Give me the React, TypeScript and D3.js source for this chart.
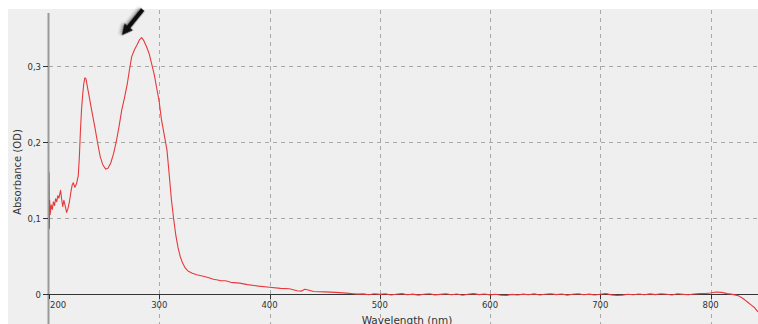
import React from "react";
import * as d3 from "d3";

// Absorption spectrum: wavelength (nm) and absorbance (OD) readings
const wavelengths: number[] = [
  200, 200.3, 200.6, 201, 202, 203, 204, 205, 206, 207, 208, 209, 210.5, 211.5, 212.5, 213.5, 214.5, 216, 217,
  218.5, 220, 221, 222, 223.5, 225, 226.5, 227.5, 228.5, 229.5, 230.5, 231.5, 232.5, 233.5, 235, 237, 239, 241.5,
  244, 246.5, 249, 251.5, 253.5, 256, 258.5, 261, 263.5, 266, 268.5, 271, 273, 275, 277.5, 280, 282, 284, 286,
  288.5, 291, 293, 295.5, 297.5, 300, 302, 304.5, 307, 309.5, 311, 313, 315, 317, 319, 321, 323.5, 326, 330, 334,
  340, 345, 349, 353, 356, 360, 365, 373, 380, 390, 400, 410, 418, 425, 429, 432, 435, 440, 450, 460, 470, 476,
  480, 485, 490, 495, 500, 505, 510, 515, 520, 525, 530, 535, 540, 545, 550, 555, 560, 565, 570, 575, 580, 585,
  590, 595, 600, 605, 610, 615, 620, 625, 630, 635, 640, 645, 650, 655, 660, 665, 670, 675, 680, 685, 690, 695,
  700, 705, 710, 715, 720, 725, 730, 735, 740, 745, 750, 755, 760, 765, 770, 775, 780, 785, 790, 795, 800, 805,
  810, 815, 820, 825, 828, 831, 834, 837, 840, 843,
];

const absorbance: number[] = [
  0.161, 0.087, 0.124, 0.105, 0.118, 0.112, 0.122, 0.117, 0.126, 0.122, 0.13, 0.127, 0.137, 0.125, 0.116, 0.124,
  0.118, 0.108, 0.112, 0.122, 0.136, 0.144, 0.147, 0.141, 0.146, 0.156, 0.18, 0.215, 0.243, 0.262, 0.277, 0.285,
  0.284, 0.272, 0.256, 0.24, 0.221, 0.2, 0.181, 0.17, 0.165, 0.166, 0.173, 0.185, 0.201, 0.221, 0.243, 0.259,
  0.277, 0.296, 0.313, 0.322, 0.329, 0.335, 0.338, 0.334, 0.326, 0.316, 0.304, 0.289, 0.273, 0.253, 0.23, 0.21,
  0.19, 0.15, 0.125, 0.1, 0.078, 0.062, 0.05, 0.042, 0.035, 0.031, 0.028, 0.026, 0.024, 0.022, 0.02, 0.019, 0.018,
  0.018, 0.016, 0.015, 0.013, 0.011, 0.0095, 0.008, 0.0075, 0.005, 0.0045, 0.0068, 0.006, 0.004, 0.0035, 0.0028,
  0.0018, 0.001, 0.0005, 0.0008, -0.0004, 0.001, 0.0002, 0.0009, -0.0006, 0.0004, 0.0012, -0.0003, 0.0005,
  -0.0008, 0.0003, 0.001, -0.0005, 0.0002, 0.0009, -0.0004, 0.0006, -0.0009, 0.0004, 0.0011, -0.0002, 0.0007,
  -0.0005, 0.0003, -0.001, -0.0012, 0.0002, -0.0006, 0.0005, -0.0003, 0.0008, -0.0007, 0.0004, 0.001, -0.0002,
  0.0006, -0.0008, 0.0003, 0.0009, -0.0004, 0.0005, -0.0006, 0.0004, 0.0012, -0.0005, -0.0012, -0.0008, 0.0003,
  -0.0004, 0.0006, -0.0003, 0.0008, -0.0002, 0.001, 0.0003, -0.0006, 0.0009, 0.0002, -0.0004, 0.0007, 0.0011,
  0.0014, 0.002, 0.0032, 0.0028, 0.0012, 0.0002, -0.0015, -0.004, -0.007, -0.0105, -0.014, -0.0175, -0.023,
];

const xTicks: number[] = [200, 300, 400, 500, 600, 700, 800];
const yTicks: number[] = [0, 0.1, 0.2, 0.3];
const yTickLabels: string[] = ["0", "0,1", "0,2", "0,3"];

// Arrow annotation pointing at the main absorption maximum (tail -> tip, in data units)
const arrowTail: [number, number] = [285, 0.375];
const arrowTip: [number, number] = [266, 0.341];

const W = 758;
const H = 324;
const FONT = "'DejaVu Sans', Verdana, sans-serif";

export default function App() {
  const x = d3.scaleLinear().domain([200, 843]).range([49, 758]);
  const y = d3.scaleLinear().domain([0, 0.3]).range([294.5, 66.5]);

  const points: [number, number][] = wavelengths.map((w, i) => [w, absorbance[i]]);
  const line = d3
    .line<[number, number]>()
    .x((d) => x(d[0]))
    .y((d) => y(d[1]));

  // Arrow geometry
  const [tx, ty] = [x(arrowTail[0]), y(arrowTail[1])];
  const [hx, hy] = [x(arrowTip[0]), y(arrowTip[1])];
  const ang = Math.atan2(hy - ty, hx - tx);
  const len = Math.hypot(hx - tx, hy - ty);
  const headLen = 11;
  const headHalf = 5.5;
  const shaftHalf = 2.2;
  const arrowPath = [
    [0, -shaftHalf],
    [len - headLen, -shaftHalf],
    [len - headLen, -headHalf],
    [len, 0],
    [len - headLen, headHalf],
    [len - headLen, shaftHalf],
    [0, shaftHalf],
  ]
    .map((p, i) => `${i === 0 ? "M" : "L"}${p[0]},${p[1]}`)
    .join("") + "Z";

  return (
    <svg
      width={W}
      height={H}
      style={{ position: "absolute", left: 0, top: 0, display: "block" }}
    >
      <defs>
        <filter id="arrowShadow" x="-50%" y="-50%" width="200%" height="200%">
          <feDropShadow dx="1" dy="2" stdDeviation="1.5" floodColor="#000" floodOpacity="0.35" />
        </filter>
        <clipPath id="plotClip">
          <rect x={49} y={9} width={W - 49} height={H - 9} />
        </clipPath>
      </defs>
      <rect x={0} y={0} width={W} height={H} fill="#ffffff" />
      <rect x={8} y={9} width={W - 8} height={H - 9} fill="#efefef" />

      {/* grid */}
      {xTicks.slice(1).map((t) => (
        <line
          key={"gx" + t}
          x1={Math.round(x(t)) + 0.5}
          x2={Math.round(x(t)) + 0.5}
          y1={10}
          y2={H}
          stroke="#a8a8a8"
          strokeWidth={1}
          strokeDasharray="4,4"
        />
      ))}
      {yTicks.slice(1).map((t) => (
        <line
          key={"gy" + t}
          x1={49}
          x2={W}
          y1={y(t)}
          y2={y(t)}
          stroke="#a8a8a8"
          strokeWidth={1}
          strokeDasharray="4,4"
        />
      ))}

      {/* y axis */}
      <line x1={48.5} x2={48.5} y1={13} y2={H} stroke="#9a9a9a" strokeWidth={2} />
      {yTicks.map((t, i) => (
        <g key={"yt" + t}>
          <line x1={43} x2={48} y1={y(t)} y2={y(t)} stroke="#333" strokeWidth={1} />
          <text
            x={41}
            y={y(t)}
            textAnchor="end"
            dominantBaseline="central"
            fontFamily={FONT}
            fontSize={8.5}
            fill="#333"
          >
            {yTickLabels[i]}
          </text>
        </g>
      ))}

      {/* x axis */}
      <line x1={44} x2={W} y1={294.5} y2={294.5} stroke="#333" strokeWidth={1} />
      {xTicks.map((t, i) => (
        <g key={"xt" + t}>
          <line
            x1={Math.round(x(t)) + 0.5}
            x2={Math.round(x(t)) + 0.5}
            y1={294.5}
            y2={299}
            stroke="#333"
            strokeWidth={1}
          />
          <text
            x={i === 0 ? x(t) + 1 : x(t)}
            y={305}
            textAnchor={i === 0 ? "start" : "middle"}
            dominantBaseline="central"
            fontFamily={FONT}
            fontSize={8.5}
            fill="#333"
          >
            {t}
          </text>
        </g>
      ))}

      {/* spectrum */}
      <path
        d={line(points) ?? ""}
        fill="none"
        stroke="#e8383c"
        strokeWidth={1.1}
        strokeLinejoin="round"
        clipPath="url(#plotClip)"
      />

      {/* axis titles */}
      <text
        transform={`translate(17,172) rotate(-90)`}
        textAnchor="middle"
        dominantBaseline="central"
        fontFamily={FONT}
        fontSize={10}
        fill="#333"
      >
        Absorbance (OD)
      </text>
      <text
        x={407}
        y={324}
        textAnchor="middle"
        fontFamily={FONT}
        fontSize={10.5}
        fill="#333"
      >
        Wavelength (nm)
      </text>

      {/* arrow */}
      <path
        d={arrowPath}
        transform={`translate(${tx},${ty}) rotate(${(ang * 180) / Math.PI})`}
        fill="#111"
        filter="url(#arrowShadow)"
      />
    </svg>
  );
}
